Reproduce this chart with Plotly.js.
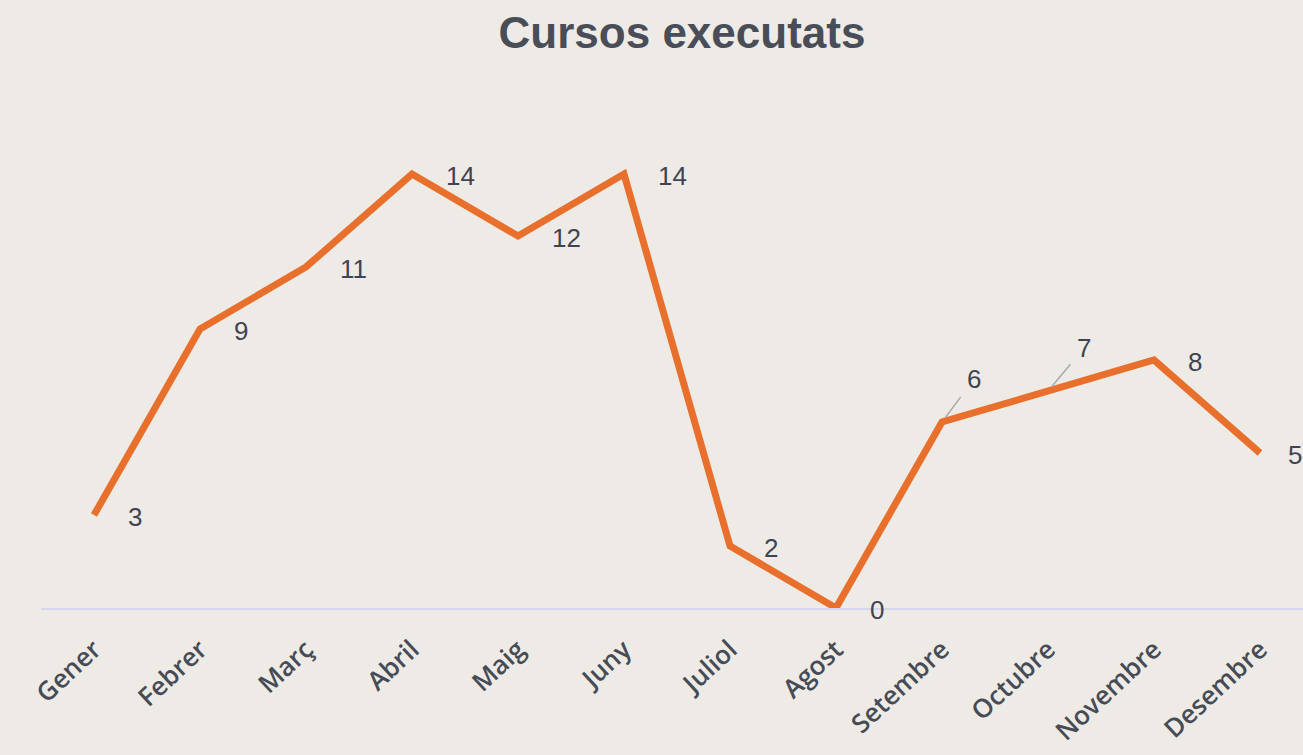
<!DOCTYPE html>
<html>
<head>
<meta charset="utf-8">
<script src="https://cdn.plot.ly/plotly-3.0.1.min.js"></script>
<style>
html,body{margin:0;padding:0;overflow:hidden;background:#EEEBE6;}
#chart{width:1313px;height:755px;}
</style>
</head>
<body>
<div id="chart"></div>
<script>
const months = ["Gener","Febrer","Març","Abril","Maig","Juny","Juliol","Agost","Setembre","Octubre","Novembre","Desembre"];
const cursos = [3, 9, 11, 14, 12, 14, 2, 0, 6, 7, 8, 5];

const textColor = '#3f4452';
const bg = '#EEEBE6';

const annotations = months.map((m, i) => {
  const base = {
    x: m, y: cursos[i], xref: 'x', yref: 'y',
    text: String(cursos[i]),
    font: {family: 'Liberation Sans, Arial, sans-serif', size: 26, color: textColor},
  };
  if (i === 8 || i === 9) {
    return Object.assign(base, {
      showarrow: true, arrowhead: 0, arrowwidth: 1.5, arrowcolor: '#a9a9a9',
      ax: i === 8 ? 32 : 36, ay: -43, standoff: 6, startstandoff: 8
    });
  }
  return Object.assign(base, {
    showarrow: false, xanchor: 'left', yanchor: 'middle',
    xshift: i === 11 ? 26 : 32, yshift: -2
  });
});

const data = [{
  type: 'scatter', mode: 'lines',
  x: months, y: cursos,
  line: {color: '#E8702C', width: 7},
  cliponaxis: false,
  hoverinfo: 'x+y'
}];

const layout = {
  width: 1313, height: 755,
  paper_bgcolor: bg, plot_bgcolor: bg,
  margin: {l: 41, r: 0, t: 112, b: 147},
  showlegend: false,
  title: {
    text: '<b>Cursos executats</b>',
    x: 682/1313, xanchor: 'center', xref: 'container',
    y: 1 - 33/755, yanchor: 'middle', yref: 'container',
    font: {family: 'Liberation Sans, Arial, sans-serif', size: 44, color: '#484d58'}
  },
  xaxis: {
    type: 'category', range: [-0.5, 11.5],
    showgrid: false, zeroline: false,
    showline: true, linecolor: '#D6D6EE', linewidth: 2,
    layer: 'below traces',
    ticks: '', tickangle: -43,
    tickfont: {family: 'Open Sans, sans-serif', size: 26, color: '#464b56', weight: 600},
    ticklabelstandoff: 14,
    fixedrange: true
  },
  yaxis: {
    range: [0, 16], showgrid: false, zeroline: false, showline: false,
    showticklabels: false, ticks: '', fixedrange: true
  },
  annotations: annotations
};

Plotly.newPlot('chart', data, layout, {displayModeBar: false, staticPlot: true});
</script>
</body>
</html>
